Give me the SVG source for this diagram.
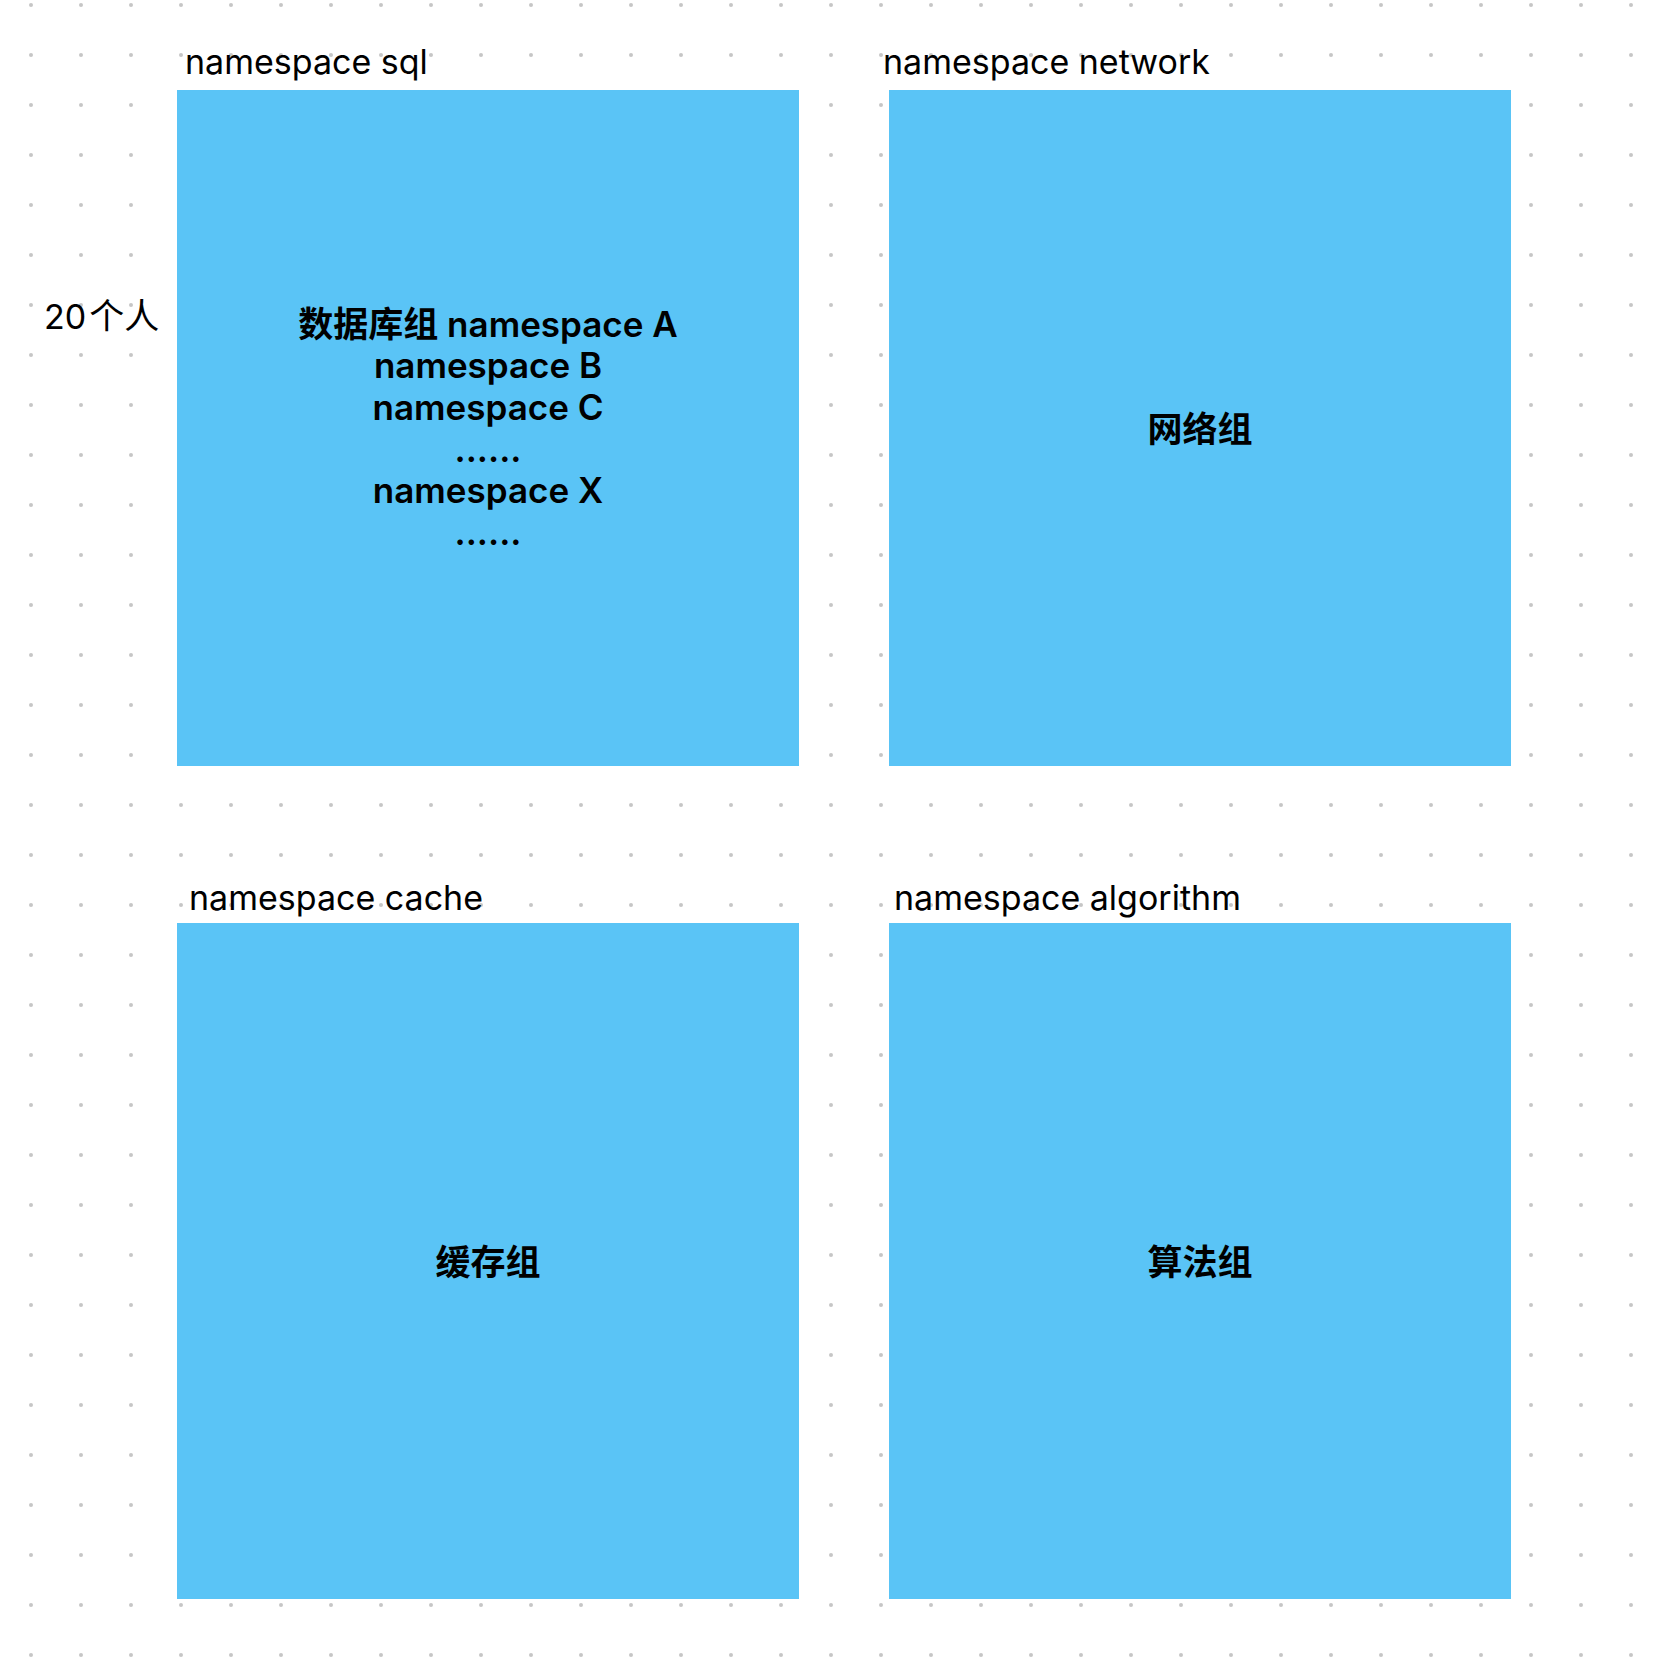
<svg xmlns="http://www.w3.org/2000/svg" width="1658" height="1680" viewBox="0 0 1658 1680">
<defs>
<pattern id="dots" x="0" y="0" width="50" height="50" patternUnits="userSpaceOnUse">
<circle cx="31" cy="5" r="2" fill="#c6c6c6"/>
</pattern>
<style>
.box{fill:#5AC4F6;}
.lbl{font-family:Inter,"Liberation Sans","Noto Sans CJK SC",sans-serif;font-size:34px;fill:#000;}
.body{font-family:Inter,"Liberation Sans","Noto Sans CJK SC",sans-serif;font-size:35px;font-weight:600;fill:#000;text-anchor:middle;}
.cjk{font-family:"Noto Sans CJK SC",sans-serif;font-size:35px;}
</style>
</defs>
<rect x="0" y="0" width="1658" height="1680" fill="#ffffff"/>
<rect x="0" y="0" width="1658" height="1680" fill="url(#dots)"/>
<text class="lbl" x="44" y="329"><tspan>20</tspan><tspan class="cjk" dx="3">个人</tspan></text>
<g id="node-sql">
<text class="lbl" x="185" y="74">namespace sql</text>
<rect class="box" x="177" y="90" width="622" height="676"/>
<text class="body" x="488" y="337"><tspan class="cjk">数据库组</tspan> namespace A</text>
<text class="body" x="488" y="378">namespace B</text>
<text class="body" x="488" y="420">namespace C</text>
<text class="body" x="488" y="462">......</text>
<text class="body" x="488" y="503">namespace X</text>
<text class="body" x="488" y="545">......</text>
</g>
<g id="node-network">
<text class="lbl" x="883" y="74">namespace network</text>
<rect class="box" x="889" y="90" width="622" height="676"/>
<text class="body cjk" x="1200" y="442">网络组</text>
</g>
<g id="node-cache">
<text class="lbl" x="189" y="910">namespace cache</text>
<rect class="box" x="177" y="923" width="622" height="676"/>
<text class="body cjk" x="488" y="1275">缓存组</text>
</g>
<g id="node-algorithm">
<text class="lbl" x="894" y="910">namespace algorithm</text>
<rect class="box" x="889" y="923" width="622" height="676"/>
<text class="body cjk" x="1200" y="1275">算法组</text>
</g>
<g id="connectors"></g>
</svg>
